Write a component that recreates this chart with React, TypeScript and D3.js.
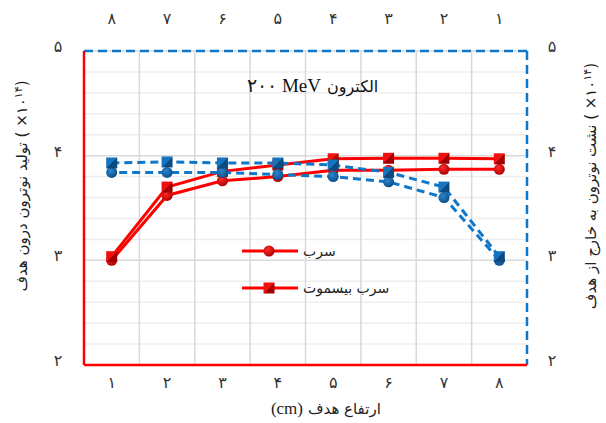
import { useEffect, useRef } from "react";
import * as d3 from "d3";

// ارتفاع هدف (cm)
const heights = [1, 2, 3, 4, 5, 6, 7, 8];
const faDigits = ["۰", "۱", "۲", "۳", "۴", "۵", "۶", "۷", "۸", "۹"];

// سری‌های قرمز (محور پایین و چپ)
const redLead = [3.0, 3.62, 3.76, 3.8, 3.86, 3.86, 3.87, 3.87];
const redLeadBi = [3.035, 3.7, 3.85, 3.91, 3.97, 3.975, 3.975, 3.97];

// سری‌های آبی (محور بالا و راست) به ترتیب ارتفاع ۱ تا ۸
const blueLead = [3.0, 3.6, 3.75, 3.8, 3.82, 3.84, 3.84, 3.84];
const blueLeadBi = [3.035, 3.7, 3.84, 3.91, 3.93, 3.93, 3.94, 3.93];

const yTicks = [2, 3, 4, 5];

const titleNum = "۲۰۰ MeV";
const titleWord = "الکترون";
const xLabelUnit = "(cm)";
const xLabelWord = "ارتفاع هدف";
const leftLabel = "تولید نوترون درون هدف";
const rightLabel = "نشت نوترون به خارج از هدف";
const legendNames = ["سرب", "سرب بیسموت"];

const toFa = (n: number) =>
  String(n)
    .split("")
    .map((c) => faDigits[+c] ?? c)
    .join("");

const RED = "#ff0000";
const BLUE = "#0f77c9";
const SERIF = "'Liberation Serif', 'Times New Roman', serif";
const SANS = "'DejaVu Sans', sans-serif";

export default function App() {
  const svgRef = useRef<SVGSVGElement>(null);

  useEffect(() => {
    document.body.style.margin = "0";
    if (!svgRef.current) return;
    const svg = d3.select(svgRef.current);
    svg.selectAll("*").remove();

    const W = 606;
    const H = 423;
    const m = { top: 51, right: 79, bottom: 58, left: 84 };
    const iw = W - m.left - m.right;
    const ih = H - m.top - m.bottom;

    svg.attr("width", W).attr("height", H);

    // گرادیان نشانگرها
    const defs = svg.append("defs");
    const sqGrad = (id: string, light: string, dark: string) => {
      const g = defs
        .append("linearGradient")
        .attr("id", id)
        .attr("x1", 0)
        .attr("y1", 0)
        .attr("x2", 1)
        .attr("y2", 1);
      g.append("stop").attr("offset", "0.5").attr("stop-color", light);
      g.append("stop").attr("offset", "0.5").attr("stop-color", dark);
    };
    const ciGrad = (id: string, light: string, dark: string) => {
      const g = defs
        .append("radialGradient")
        .attr("id", id)
        .attr("cx", 0.4)
        .attr("cy", 0.35)
        .attr("r", 0.7);
      g.append("stop").attr("offset", "0").attr("stop-color", light);
      g.append("stop").attr("offset", "1").attr("stop-color", dark);
    };
    sqGrad("sqRed", "#f01010", "#a00000");
    sqGrad("sqBlue", "#1673c0", "#0c4a82");
    ciGrad("ciRed", "#ff2a2a", "#a80000");
    ciGrad("ciBlue", "#2a86d0", "#0c4a82");

    const xBottom = d3.scaleBand<number>().domain(heights).range([0, iw]);
    const xTop = d3
      .scaleBand<number>()
      .domain([...heights].reverse())
      .range([0, iw]);
    const yLeft = d3.scaleLinear().domain([2, 5]).range([ih, 0]);
    const yRight = d3.scaleLinear().domain([2, 5]).range([ih, 0]);

    const g = svg
      .append("g")
      .attr("transform", `translate(${m.left},${m.top})`);

    // شبکه افقی فرعی و اصلی
    const minor = d3.range(2, 5.001, 0.2);
    g.append("g")
      .selectAll("line")
      .data(minor)
      .enter()
      .append("line")
      .attr("x1", 0)
      .attr("x2", iw)
      .attr("y1", (d) => yLeft(d))
      .attr("y2", (d) => yLeft(d))
      .attr("stroke", (d) =>
        Math.abs(d - Math.round(d)) < 1e-6 ? "#d9d9d9" : "#eeeeee"
      )
      .attr("stroke-width", 1.5);

    // شبکه عمودی
    g.append("g")
      .selectAll("line")
      .data(heights.slice(1))
      .enter()
      .append("line")
      .attr("x1", (d) => xBottom(d) || 0)
      .attr("x2", (d) => xBottom(d) || 0)
      .attr("y1", 0)
      .attr("y2", ih)
      .attr("stroke", "#d9d9d9")
      .attr("stroke-width", 1.5);

    // محورها
    const border = (x1: number, y1: number, x2: number, y2: number, c: string, dash: string | null) =>
      g.append("line")
        .attr("x1", x1)
        .attr("x2", x2)
        .attr("y1", y1)
        .attr("y2", y2)
        .attr("stroke", c)
        .attr("stroke-width", 2.5)
        .attr("stroke-dasharray", dash);
    border(0, 0, iw, 0, BLUE, "9,5");
    border(iw, 0, iw, ih, BLUE, "9,5");
    border(0, 0, 0, ih, RED, null);
    border(0, ih, iw, ih, RED, null);

    const tick = (
      data: number[],
      x: (d: number) => number,
      y: (d: number) => number
    ) =>
      g.append("g")
        .selectAll("text")
        .data(data)
        .enter()
        .append("text")
        .attr("x", x)
        .attr("y", y)
        .attr("text-anchor", "middle")
        .style("font-family", SANS)
        .style("font-size", "16px")
        .style("fill", "#333")
        .text((d) => toFa(d));

    // برچسب‌های محور پایین و بالا
    tick(heights, (d) => (xBottom(d) || 0) + xBottom.bandwidth() / 2, () => ih + 23);
    tick(heights, (d) => (xTop(d) || 0) + xTop.bandwidth() / 2, () => -27);
    // برچسب‌های محور چپ و راست
    tick(yTicks, () => -26, (d) => yLeft(d) + 1);
    tick(yTicks, () => iw + 25, (d) => yRight(d) + 1);

    // عنوان داخل نمودار
    g.append("text")
      .attr("x", 237)
      .attr("y", 41)
      .attr("text-anchor", "end")
      .style("font-family", SERIF)
      .style("font-size", "19px")
      .style("fill", "#111")
      .text(titleNum);
    g.append("text")
      .attr("x", 243)
      .attr("y", 41)
      .attr("text-anchor", "start")
      .style("font-family", SANS)
      .style("font-size", "16px")
      .style("fill", "#111")
      .text(titleWord);

    // خطوط سری‌ها
    const cx = (d: number) => (xBottom(d) || 0) + xBottom.bandwidth() / 2;
    const cxTop = (d: number) => (xTop(d) || 0) + xTop.bandwidth() / 2;

    type Series = {
      values: number[];
      x: (d: number) => number;
      y: d3.ScaleLinear<number, number>;
      color: string;
      dash: string | null;
      shape: "circle" | "square";
      fill: string;
    };
    const series: Series[] = [
      { values: redLead, x: cx, y: yLeft, color: RED, dash: null, shape: "circle", fill: "url(#ciRed)" },
      { values: redLeadBi, x: cx, y: yLeft, color: RED, dash: null, shape: "square", fill: "url(#sqRed)" },
      { values: blueLead, x: cxTop, y: yRight, color: BLUE, dash: "8,5", shape: "circle", fill: "url(#ciBlue)" },
      { values: blueLeadBi, x: cxTop, y: yRight, color: BLUE, dash: "8,5", shape: "square", fill: "url(#sqBlue)" },
    ];

    const drawMarker = (
      sel: d3.Selection<SVGGElement, unknown, null, undefined>,
      shape: string,
      fill: string,
      x: number,
      y: number
    ) => {
      if (shape === "circle") {
        sel.append("circle").attr("cx", x).attr("cy", y).attr("r", 5.5).attr("fill", fill);
      } else {
        sel
          .append("rect")
          .attr("x", x - 5.5)
          .attr("y", y - 5.5)
          .attr("width", 11)
          .attr("height", 11)
          .attr("fill", fill);
      }
    };

    series.forEach((s) => {
      const pts = heights.map((h, i) => [s.x(h), s.y(s.values[i])] as [number, number]);
      g.append("path")
        .attr("d", d3.line()(pts))
        .attr("fill", "none")
        .attr("stroke", s.color)
        .attr("stroke-width", 3)
        .attr("stroke-dasharray", s.dash);
    });
    series.forEach((s) => {
      const mg = g.append("g") as unknown as d3.Selection<SVGGElement, unknown, null, undefined>;
      heights.forEach((h, i) => drawMarker(mg, s.shape, s.fill, s.x(h), s.y(s.values[i])));
    });

    // راهنما
    const lg = svg.append("g") as unknown as d3.Selection<SVGGElement, unknown, null, undefined>;
    [
      { y: 251, shape: "circle", fill: "url(#ciRed)" },
      { y: 288, shape: "square", fill: "url(#sqRed)" },
    ].forEach((d, i) => {
      lg.append("line")
        .attr("x1", 242)
        .attr("x2", 298)
        .attr("y1", d.y)
        .attr("y2", d.y)
        .attr("stroke", RED)
        .attr("stroke-width", 3);
      drawMarker(lg, d.shape, d.fill, 269, d.y);
      lg.append("text")
        .attr("x", 303)
        .attr("y", d.y + 5)
        .attr("text-anchor", "start")
        .style("font-family", SANS)
        .style("font-size", "14px")
        .style("fill", "#222")
        .text(legendNames[i]);
    });

    // عنوان محور پایین
    svg
      .append("text")
      .attr("x", 303)
      .attr("y", 414)
      .attr("text-anchor", "end")
      .style("font-family", SERIF)
      .style("font-size", "17px")
      .style("fill", "#222")
      .text(xLabelUnit);
    svg
      .append("text")
      .attr("x", 308)
      .attr("y", 414)
      .attr("text-anchor", "start")
      .style("font-family", SANS)
      .style("font-size", "15px")
      .style("fill", "#222")
      .text(xLabelWord);

    // عنوان محورهای عمودی
    const vLabel = (x: number, y: number, txt: string) => {
      const t = svg
        .append("text")
        .attr("transform", `translate(${x},${y}) rotate(-90)`)
        .attr("text-anchor", "middle")
        .style("font-family", SANS)
        .style("font-size", "15px")
        .style("fill", "#222");
      t.append("tspan").text(txt + "  \u200E( ×۱۰");
      t.append("tspan").attr("dy", -5).style("font-size", "11px").text("۱۴");
      t.append("tspan").attr("dy", 5).text(")");
    };
    vLabel(27, 186, leftLabel);
    vLabel(596, 186, rightLabel);
  }, []);

  return <svg ref={svgRef} style={{ display: "block" }} />;
}
